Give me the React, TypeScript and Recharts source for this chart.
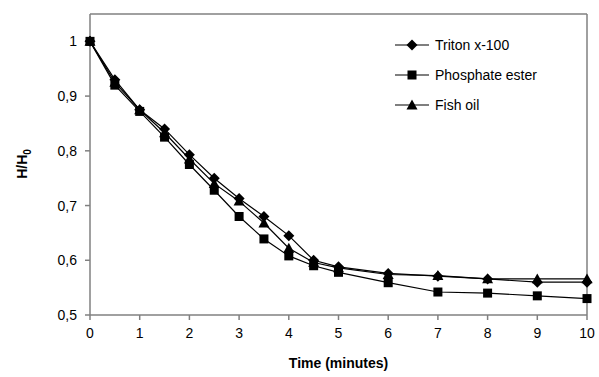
import React from 'react';
import { LineChart, Line, XAxis, YAxis, Legend, ReferenceLine, Label } from 'recharts';

const times = [0, 0.5, 1, 1.5, 2, 2.5, 3, 3.5, 4, 4.5, 5, 6, 7, 8, 9, 10];
const triton = [1, 0.93, 0.875, 0.84, 0.793, 0.75, 0.713, 0.68, 0.645, 0.6, 0.588, 0.576, 0.571, 0.566, 0.56, 0.56];
const phosphate = [1, 0.92, 0.872, 0.825, 0.775, 0.728, 0.68, 0.639, 0.608, 0.59, 0.578, 0.559, 0.542, 0.54, 0.535, 0.53];
const fishOil = [1, 0.925, 0.875, 0.833, 0.785, 0.74, 0.708, 0.668, 0.622, 0.596, 0.586, 0.574, 0.572, 0.566, 0.566, 0.566];
const xTicks = [0, 1, 2, 3, 4, 5, 6, 7, 8, 9, 10];
const yTicks = [0.5, 0.6, 0.7, 0.8, 0.9, 1];
const seriesNames = ['Triton x-100', 'Phosphate ester', 'Fish oil'];

const data = times.map((t, i) => ({ t, a: triton[i], b: phosphate[i], c: fishOil[i] }));

const FONT = '"Liberation Sans", Arial, sans-serif';
const AXIS = '#808080';

const Diamond = (props: any) => {
  const { cx, cy } = props;
  if (cx == null || cy == null) return null;
  const r = 5.5;
  return <polygon points={`${cx},${cy - r} ${cx + r},${cy} ${cx},${cy + r} ${cx - r},${cy}`} fill="#000" />;
};
const Square = (props: any) => {
  const { cx, cy } = props;
  if (cx == null || cy == null) return null;
  const s = 4.5;
  return <rect x={cx - s} y={cy - s} width={2 * s} height={2 * s} fill="#000" />;
};
const Triangle = (props: any) => {
  const { cx, cy } = props;
  if (cx == null || cy == null) return null;
  const r = 5.5;
  return <polygon points={`${cx},${cy - r} ${cx + r},${cy + r * 0.8} ${cx - r},${cy + r * 0.8}`} fill="#000" />;
};

const shapes = [Diamond, Square, Triangle];

const renderLegend = () => (
  <div style={{ fontFamily: FONT, fontSize: 14, color: '#000' }}>
    {seriesNames.map((n, i) => {
      const Shape = shapes[i];
      return (
        <div key={n} style={{ display: 'flex', alignItems: 'center', height: 30 }}>
          <svg width={36} height={16} style={{ marginRight: 4 }}>
            <line x1={0} y1={8} x2={34} y2={8} stroke="#000" strokeWidth={1.2} />
            <Shape cx={17} cy={8} />
          </svg>
          <span>{n}</span>
        </div>
      );
    })}
  </div>
);

const YLabel = () => (
  <text
    x={0}
    y={0}
    transform="translate(27,164) rotate(-90)"
    textAnchor="middle"
    fontFamily={FONT}
    fontSize={14}
    fontWeight="bold"
    fill="#000"
  >
    H/H<tspan fontSize={10} dy={4}>0</tspan>
  </text>
);

export default function App() {
  return (
    <div style={{ position: 'absolute', left: 0, top: 0, background: '#fff' }}>
      <LineChart width={599} height={377} data={data} margin={{ top: 14, right: 12, left: 30, bottom: 32 }}>
        <XAxis
          dataKey="t"
          type="number"
          domain={[0, 10]}
          ticks={xTicks}
          allowDecimals={false}
          stroke={AXIS}
          strokeWidth={1.5}
          tickSize={5}
          tickMargin={8}
          height={30}
          tick={{ fill: '#000', fontSize: 14, fontFamily: FONT }}
        >
          <Label
            value="Time (minutes)"
            position="insideBottom"
            offset={-23}
            style={{ fontFamily: FONT, fontSize: 14, fontWeight: 'bold', fill: '#000' }}
          />
        </XAxis>
        <YAxis
          type="number"
          domain={[0.5, 1.05]}
          ticks={yTicks}
          width={60}
          stroke={AXIS}
          strokeWidth={1.5}
          tickSize={5}
          tickMargin={8}
          tickFormatter={(v: number) => String(Number(v.toFixed(1))).replace('.', ',')}
          tick={{ fill: '#000', fontSize: 14, fontFamily: FONT }}
        >
          <Label content={YLabel} />
        </YAxis>
        <ReferenceLine y={1.05} stroke={AXIS} strokeWidth={1.5} />
        <ReferenceLine x={10} stroke={AXIS} strokeWidth={1.5} />
        <Legend
          layout="vertical"
          align="center"
          verticalAlign="middle"
          content={renderLegend}
          wrapperStyle={{ position: 'absolute', left: 395, top: 30, width: 180 }}
        />
        <Line dataKey="c" name={seriesNames[2]} stroke="#000" strokeWidth={1.2} dot={<Triangle />} isAnimationActive={false} />
        <Line dataKey="a" name={seriesNames[0]} stroke="#000" strokeWidth={1.2} dot={<Diamond />} isAnimationActive={false} />
        <Line dataKey="b" name={seriesNames[1]} stroke="#000" strokeWidth={1.2} dot={<Square />} isAnimationActive={false} />
      </LineChart>
    </div>
  );
}
